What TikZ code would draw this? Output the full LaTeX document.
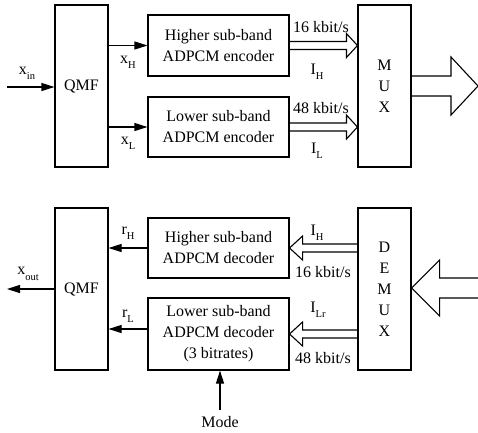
\documentclass[tikz,border=0pt]{standalone}
\usepackage{fontspec}
\setmainfont{Liberation Serif}
\usetikzlibrary{arrows.meta,calc}
\newcommand\lab[2]{#1\raisebox{-0.33em}{\fontsize{10.5}{12}\selectfont #2}}
% fat outline arrow: start, tip, direction (1 right / -1 left), shaft half width, head half width, head length
\newcommand\fatarr[6]{%
  \draw[fatline] ($(#1)+(0,-#4)$) -- ($(#2)+({-(#3)*(#6)},-#4)$) -- ($(#2)+({-(#3)*(#6)},-#5)$) -- (#2)
    -- ($(#2)+({-(#3)*(#6)},#5)$) -- ($(#2)+({-(#3)*(#6)},#4)$) -- ($(#1)+(0,#4)$);}
\begin{document}
\begin{tikzpicture}[x=1pt,y=-1pt,
  every node/.style={font=\fontsize{16}{21}\selectfont},
  blk/.style={draw,line width=1.1pt,inner sep=0pt,align=center},
  tall/.style={blk,minimum width=53pt,minimum height=162pt},
  wide/.style={blk,minimum width=141pt},
  sig/.style={line width=1.1pt,-{Triangle[length=13pt,width=8pt]}},
  fatline/.style={line width=1.1pt,line join=miter},
  txt/.style={inner sep=0pt}]
\useasboundingbox (0,0) rectangle (478,432);
% encoder side
\node[tall] (qmf1) at (81.5,86) {QMF};
\node[wide,minimum height=61pt] (henc) at (218.5,45.5) {Higher sub-band\\ADPCM encoder};
\node[wide,minimum height=60pt] (lenc) at (218.5,127) {Lower sub-band\\ADPCM encoder};
\node[tall] (mux) at (384.5,86) {M\\U\\X};
\coordinate (xin) at (7,87);
\coordinate (muxout) at (478,86);
\draw[sig] (xin) -- (xin -| qmf1.west);
\draw[sig] (qmf1.east |- henc.west) -- (henc.west);
\draw[sig] (qmf1.east |- lenc.west) -- (lenc.west);
\fatarr{henc.east}{mux.west |- henc.east}{1}{4}{12}{11}
\fatarr{lenc.east}{mux.west |- lenc.east}{1}{4}{12}{11}
\fatarr{mux.east}{muxout}{1}{10}{29}{27}
\node[txt] (lxin) at (27,73) {\lab{x}{in}};
\node[txt] (lxh) at (128,62) {\lab{x}{H}};
\node[txt] (lxl) at (128,143) {\lab{x}{L}};
\node[txt] (r16) at (321,27) {16 kbit/s};
\node[txt] (lih) at (317,72) {\lab{I}{H}};
\node[txt] (r48) at (321,108) {48 kbit/s};
\node[txt] (lil) at (317,151) {\lab{I}{L}};
% decoder side
\node[tall] (qmf2) at (81.5,289) {QMF};
\node[wide,minimum height=60pt] (hdec) at (218.5,248) {Higher sub-band\\ADPCM decoder};
\node[wide,minimum height=72pt] (ldec) at (218.5,334) {Lower sub-band\\ADPCM decoder\\(3 bitrates)};
\node[tall] (demux) at (384.5,289) {D\\E\\M\\U\\X};
\coordinate (xout) at (7,289);
\coordinate (demuxin) at (478,288);
\coordinate (mode) at (220,410);
\draw[sig] (qmf2.west) -- (xout);
\draw[sig] (hdec.west) -- (qmf2.east |- hdec.west);
\draw[sig] ($(ldec.west)+(0,-5)$) -- ($(qmf2.east |- ldec.west)+(0,-5)$);
\draw[sig] (mode) -- (mode |- ldec.south);
\fatarr{demux.west |- hdec.east}{hdec.east}{-1}{4}{12}{13}
\fatarr{demux.west |- ldec.east}{ldec.east}{-1}{4}{12}{13}
\fatarr{demuxin}{demux.east |- demuxin}{-1}{10}{28}{28}
\node[txt] (lxout) at (28,274) {\lab{x}{out}};
\node[txt] (lrh) at (128,233) {\lab{r}{H}};
\node[txt] (lrl) at (128,316) {\lab{r}{L}};
\node[txt] (dih) at (317,233) {\lab{I}{H}};
\node[txt] (d16) at (323,272) {16 kbit/s};
\node[txt] (dil) at (318,310) {\lab{I}{Lr}};
\node[txt] (d48) at (323,358) {48 kbit/s};
\node[txt] (lmode) at (220,422) {Mode};
\end{tikzpicture}
\end{document}
